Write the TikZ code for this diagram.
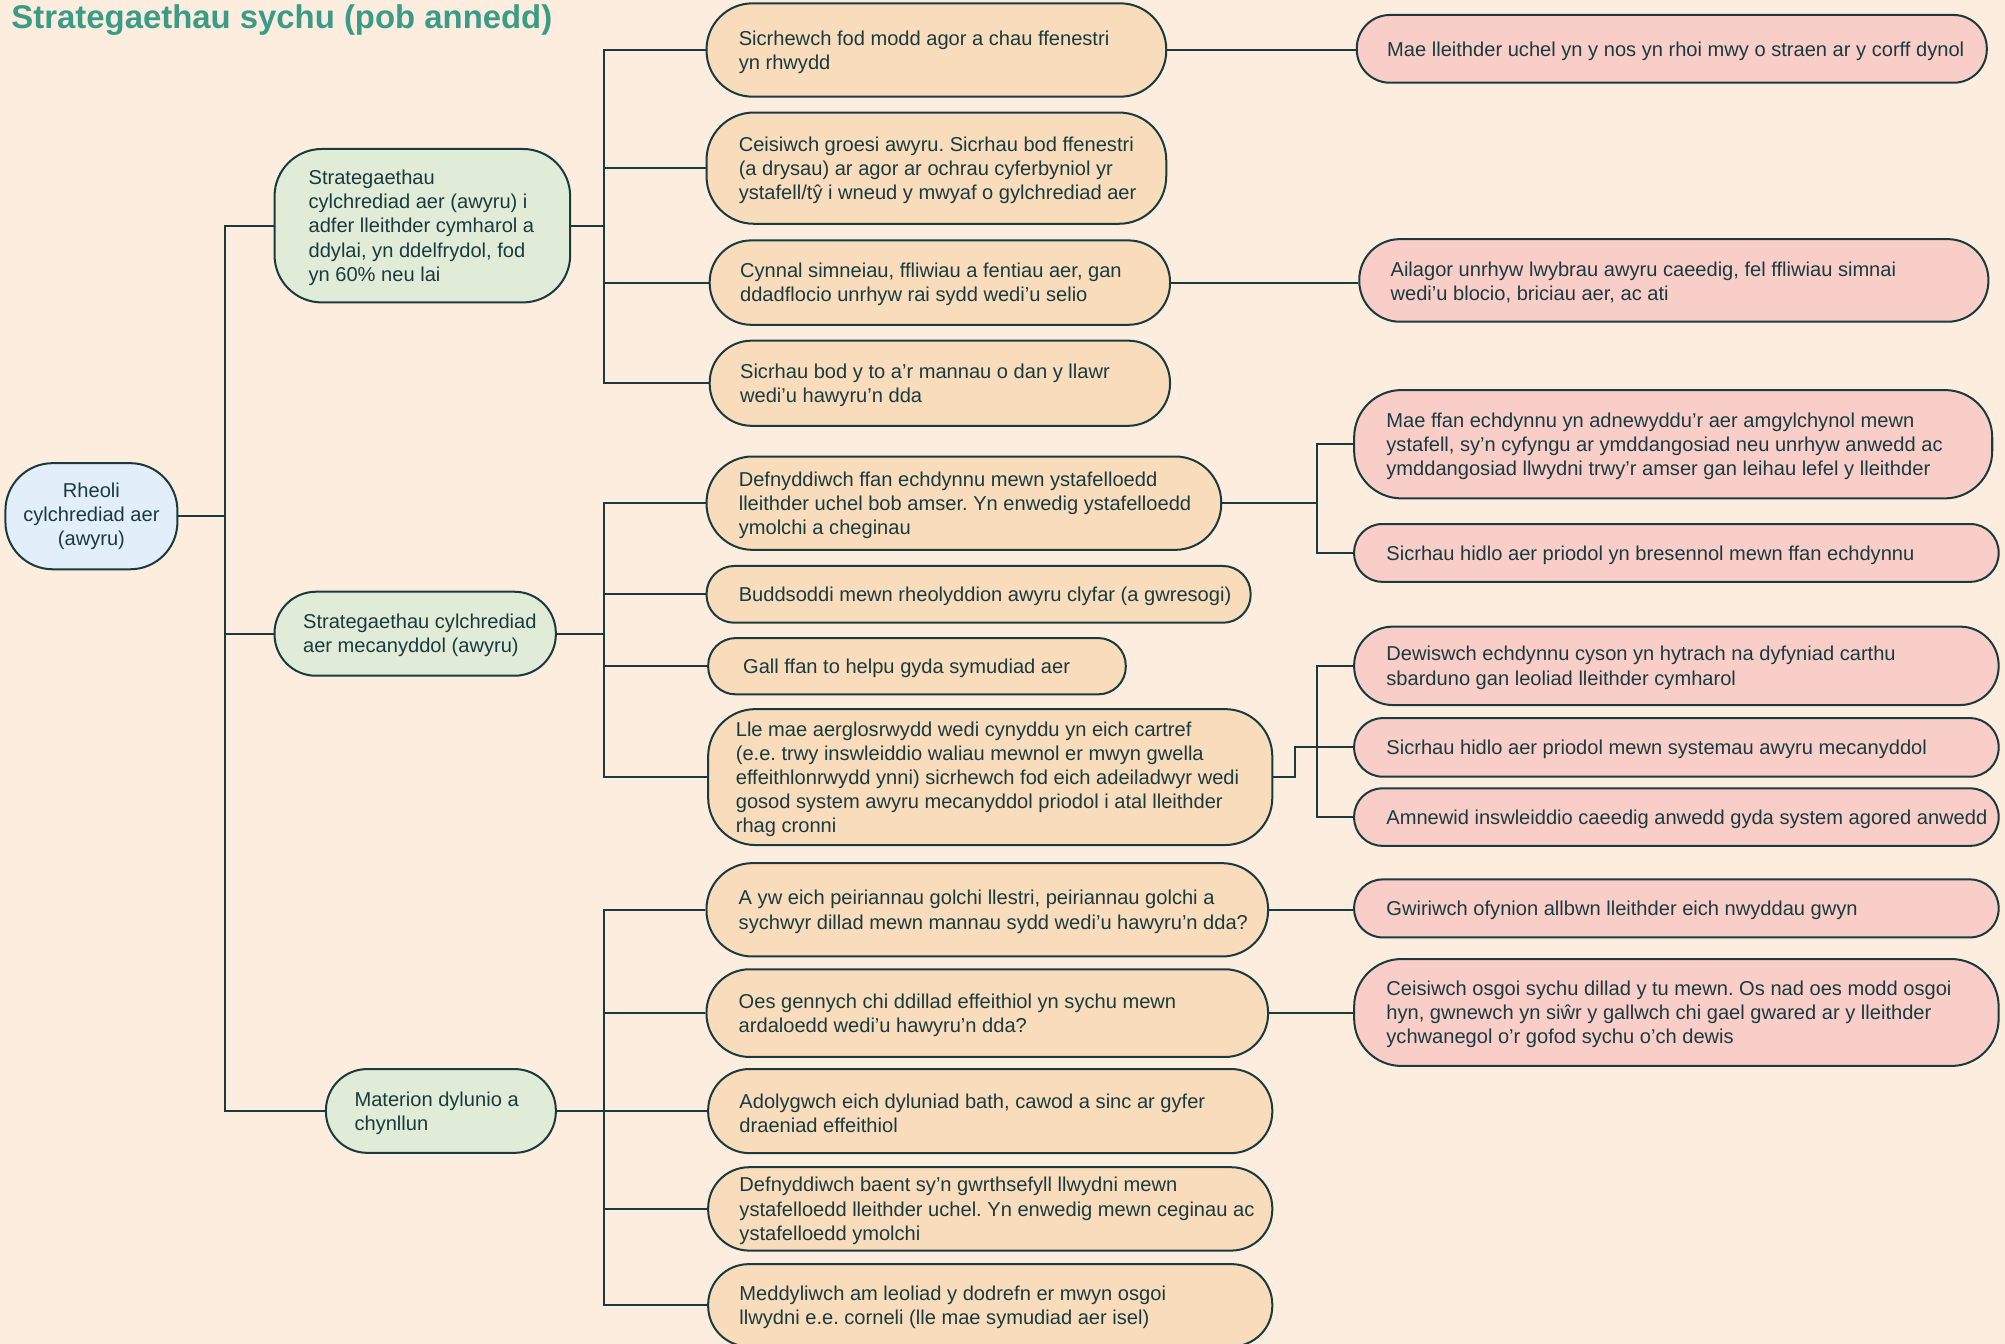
\documentclass[tikz,border=0pt]{standalone}
\usepackage{fontspec}
\setmainfont{Liberation Sans}
\definecolor{bg}{HTML}{FDEDDF}
\definecolor{ink}{HTML}{1B3A3E}
\definecolor{heading}{HTML}{3A9B87}
\definecolor{rootfill}{HTML}{E3EEFB}
\definecolor{midfill}{HTML}{E0ECD7}
\definecolor{tipfill}{HTML}{F8DCBB}
\definecolor{notefill}{HTML}{F9CEC8}
\frenchspacing
\begin{document}
\begin{tikzpicture}[x=0.7pt,y=-0.7pt,
    box/.style 2 args={draw=ink,line width=1.1pt,inner sep=0pt,
      minimum width=#1*0.7pt,minimum height=#2*0.7pt,
      rounded corners={min(#2/2-0.5,37)*0.7pt}},
    txt/.style={anchor=west,align=left,inner sep=0pt,text=ink,yshift=-1.1pt,
      font=\fontsize{11}{13.2}\selectfont},
    link/.style={draw=ink,line width=1.1pt}]
    \useasboundingbox[fill=bg] (0,0) rectangle (1568,1051);
    \node[anchor=base west,inner sep=0pt,text=heading,
      font=\fontsize{18}{22}\selectfont\bfseries] (title) at (8.7,22.5)
      {Strategaethau sychu (pob annedd)};

    \node[box={134.5}{83},fill=rootfill,align=center,text=ink,
      font=\fontsize{11}{13.2}\selectfont] (root) at (71.5,403.7)
      {Rheoli\\cylchrediad aer\\(awyru)};

    \node[box={231.2}{120},fill=midfill] (g1) at (330.3,176.5) {};
    \node[txt] (g1t) at ([xshift=19pt]g1.west) {Strategaethau\\cylchrediad aer (awyru) i\\adfer lleithder cymharol a\\ddylai, yn ddelfrydol, fod\\yn 60\% neu lai};
    \node[box={220}{65.7},fill=midfill] (g2) at (324.7,495.6) {};
    \node[txt] (g2t) at ([xshift=16pt]g2.west) {Strategaethau cylchrediad\\aer mecanyddol (awyru)};
    \node[box={179.8}{65.5},fill=midfill] (g3) at (344.8,868.8) {};
    \node[txt] (g3t) at ([xshift=16pt]g3.west) {Materion dylunio a\\chynllun};

    \node[box={359.5}{73},fill=tipfill] (o1) at (732.3,39.1) {};
    \node[txt] (o1t) at ([xshift=18pt]o1.west) {Sicrhewch fod modd agor a chau ffenestri\\yn rhwydd};
    \node[box={359.5}{87},fill=tipfill] (o2) at (732.3,131.5) {};
    \node[txt] (o2t) at ([xshift=18pt]o2.west) {Ceisiwch groesi awyru. Sicrhau bod ffenestri\\(a drysau) ar agor ar ochrau cyferbyniol yr\\ystafell/tŷ i wneud y mwyaf o gylchrediad aer};
    \node[box={360}{66},fill=tipfill] (o3) at (735,221) {};
    \node[txt] (o3t) at ([xshift=17pt]o3.west) {Cynnal simneiau, ffliwiau a fentiau aer, gan\\ddadflocio unrhyw rai sydd wedi’u selio};
    \node[box={360}{66.6},fill=tipfill] (o4) at (735,299.7) {};
    \node[txt] (o4t) at ([xshift=17pt]o4.west) {Sicrhau bod y to a’r mannau o dan y llawr\\wedi’u hawyru’n dda};

    \node[box={402.5}{73},fill=tipfill] (o5) at (753.8,393.5) {};
    \node[txt] (o5t) at ([xshift=18pt]o5.west) {Defnyddiwch ffan echdynnu mewn ystafelloedd\\lleithder uchel bob amser. Yn enwedig ystafelloedd\\ymolchi a cheginau};
    \node[box={425.5}{44.4},fill=tipfill] (o6) at (765.3,464.8) {};
    \node[txt] (o6t) at ([xshift=18pt]o6.west) {Buddsoddi mewn rheolyddion awyru clyfar (a gwresogi)};
    \node[box={326.6}{44},fill=tipfill] (o7) at (717.1,521) {};
    \node[txt] (o7t) at ([xshift=19.5pt]o7.west) {Gall ffan to helpu gyda symudiad aer};
    \node[box={441.2}{106.3},fill=tipfill] (o8) at (774.4,607.7) {};
    \node[txt] (o8t) at ([xshift=15.5pt]o8.west) {Lle mae aerglosrwydd wedi cynyddu yn eich cartref\\(e.e. trwy inswleiddio waliau mewnol er mwyn gwella\\effeithlonrwydd ynni) sicrhewch fod eich adeiladwyr wedi\\gosod system awyru mecanyddol priodol i atal lleithder\\rhag cronni};

    \node[box={439.2}{73},fill=tipfill] (o9) at (772.1,711.5) {};
    \node[txt] (o9t) at ([xshift=18pt]o9.west) {A yw eich peiriannau golchi llestri, peiriannau golchi a\\sychwyr dillad mewn mannau sydd wedi’u hawyru’n dda?};
    \node[box={439.2}{68.6},fill=tipfill] (o10) at (772.1,792.3) {};
    \node[txt] (o10t) at ([xshift=18pt]o10.west) {Oes gennych chi ddillad effeithiol yn sychu mewn\\ardaloedd wedi’u hawyru’n dda?};
    \node[box={441.2}{65.8},fill=tipfill] (o11) at (774.4,868.9) {};
    \node[txt] (o11t) at ([xshift=17.5pt]o11.west) {Adolygwch eich dyluniad bath, cawod a sinc ar gyfer\\draeniad effeithiol};
    \node[box={441.2}{65.2},fill=tipfill] (o12) at (774.4,945.4) {};
    \node[txt] (o12t) at ([xshift=17.5pt]o12.west) {Defnyddiwch baent sy’n gwrthsefyll llwydni mewn\\ystafelloedd lleithder uchel. Yn enwedig mewn ceginau ac\\ystafelloedd ymolchi};
    \node[box={441.2}{64.4},fill=tipfill] (o13) at (774.4,1020.8) {};
    \node[txt] (o13t) at ([xshift=17.5pt]o13.west) {Meddyliwch am leoliad y dodrefn er mwyn osgoi\\llwydni e.e. corneli (lle mae symudiad aer isel)};

    \node[box={492.7}{53},fill=notefill] (p1) at (1307.4,38.2) {};
    \node[txt] (p1t) at ([xshift=17pt]p1.west) {Mae lleithder uchel yn y nos yn rhoi mwy o straen ar y corff dynol};
    \node[box={492}{64.6},fill=notefill] (p2) at (1309,219.3) {};
    \node[txt] (p2t) at ([xshift=17.5pt]p2.west) {Ailagor unrhyw lwybrau awyru caeedig, fel ffliwiau simnai\\wedi’u blocio, briciau aer, ac ati};
    \node[box={499}{84.7},fill=notefill] (p3) at (1308.5,347.4) {};
    \node[txt] (p3t) at ([xshift=18pt]p3.west) {Mae ffan echdynnu yn adnewyddu’r aer amgylchynol mewn\\ystafell, sy’n cyfyngu ar ymddangosiad neu unrhyw anwedd ac\\ymddangosiad llwydni trwy’r amser gan leihau lefel y lleithder};
    \node[box={504}{45.2},fill=notefill] (p4) at (1311,432.4) {};
    \node[txt] (p4t) at ([xshift=18pt]p4.west) {Sicrhau hidlo aer priodol yn bresennol mewn ffan echdynnu};
    \node[box={504}{61.3},fill=notefill] (p5) at (1311,520.7) {};
    \node[txt] (p5t) at ([xshift=18pt]p5.west) {Dewiswch echdynnu cyson yn hytrach na dyfyniad carthu\\sbarduno gan leoliad lleithder cymharol};
    \node[box={504}{45.8},fill=notefill] (p6) at (1311,584.5) {};
    \node[txt] (p6t) at ([xshift=18pt]p6.west) {Sicrhau hidlo aer priodol mewn systemau awyru mecanyddol};
    \node[box={504}{44.9},fill=notefill] (p7) at (1311,639) {};
    \node[txt] (p7t) at ([xshift=18pt]p7.west) {Amnewid inswleiddio caeedig anwedd gyda system agored anwedd};
    \node[box={504}{45.3},fill=notefill] (p8) at (1311,710.4) {};
    \node[txt] (p8t) at ([xshift=18pt]p8.west) {Gwiriwch ofynion allbwn lleithder eich nwyddau gwyn};
    \node[box={504}{83.6},fill=notefill] (p9) at (1311,791.8) {};
    \node[txt] (p9t) at ([xshift=18pt]p9.west) {Ceisiwch osgoi sychu dillad y tu mewn. Os nad oes modd osgoi\\hyn, gwnewch yn siŵr y gallwch chi gael gwared ar y lleithder\\ychwanegol o’r gofod sychu o’ch dewis};

    \coordinate (j0) at (176.3,403.7);
    \coordinate (j1) at (472.4,176.5);
    \coordinate (j2) at (472.4,495.6);
    \coordinate (j3) at (472.4,868.8);
    \coordinate (j4) at (1030,393.5);
    \coordinate (k5) at (1012.7,584.5);
    \coordinate (j5) at (1030,584.5);

    \draw[link] (root.east) -- (j0);
    \draw[link] (g1.west) -| (j0) |- (g3.west);
    \draw[link] (j0 |- g2.west) -- (g2.west);

    \draw[link] (g1.east) -- (j1);
    \draw[link] (o1.west) -| (j1) |- (o4.west);
    \draw[link] (j1 |- o2.west) -- (o2.west);
    \draw[link] (j1 |- o3.west) -- (o3.west);

    \draw[link] (g2.east) -- (j2);
    \draw[link] (o5.west) -| (j2) |- (o8.west);
    \draw[link] (j2 |- o6.west) -- (o6.west);
    \draw[link] (j2 |- o7.west) -- (o7.west);

    \draw[link] (g3.east) -- (j3);
    \draw[link] (o9.west) -| (j3) |- (o13.west);
    \draw[link] (j3 |- o10.west) -- (o10.west);
    \draw[link] (j3 |- o11.west) -- (o11.west);
    \draw[link] (j3 |- o12.west) -- (o12.west);

    \draw[link] (o1.east) -- (o1.east -| p1.west);
    \draw[link] (o3.east) -- (o3.east -| p2.west);
    \draw[link] (o5.east) -- (j4);
    \draw[link] (p3.west) -| (j4) |- (p4.west);
    \draw[link] (o8.east) -| (k5) -- (j5);
    \draw[link] (p5.west) -| (j5) |- (p7.west);
    \draw[link] (j5) -- (p6.west);
    \draw[link] (o9.east) -- (o9.east -| p8.west);
    \draw[link] (o10.east) -- (o10.east -| p9.west);
\end{tikzpicture}
\end{document}
